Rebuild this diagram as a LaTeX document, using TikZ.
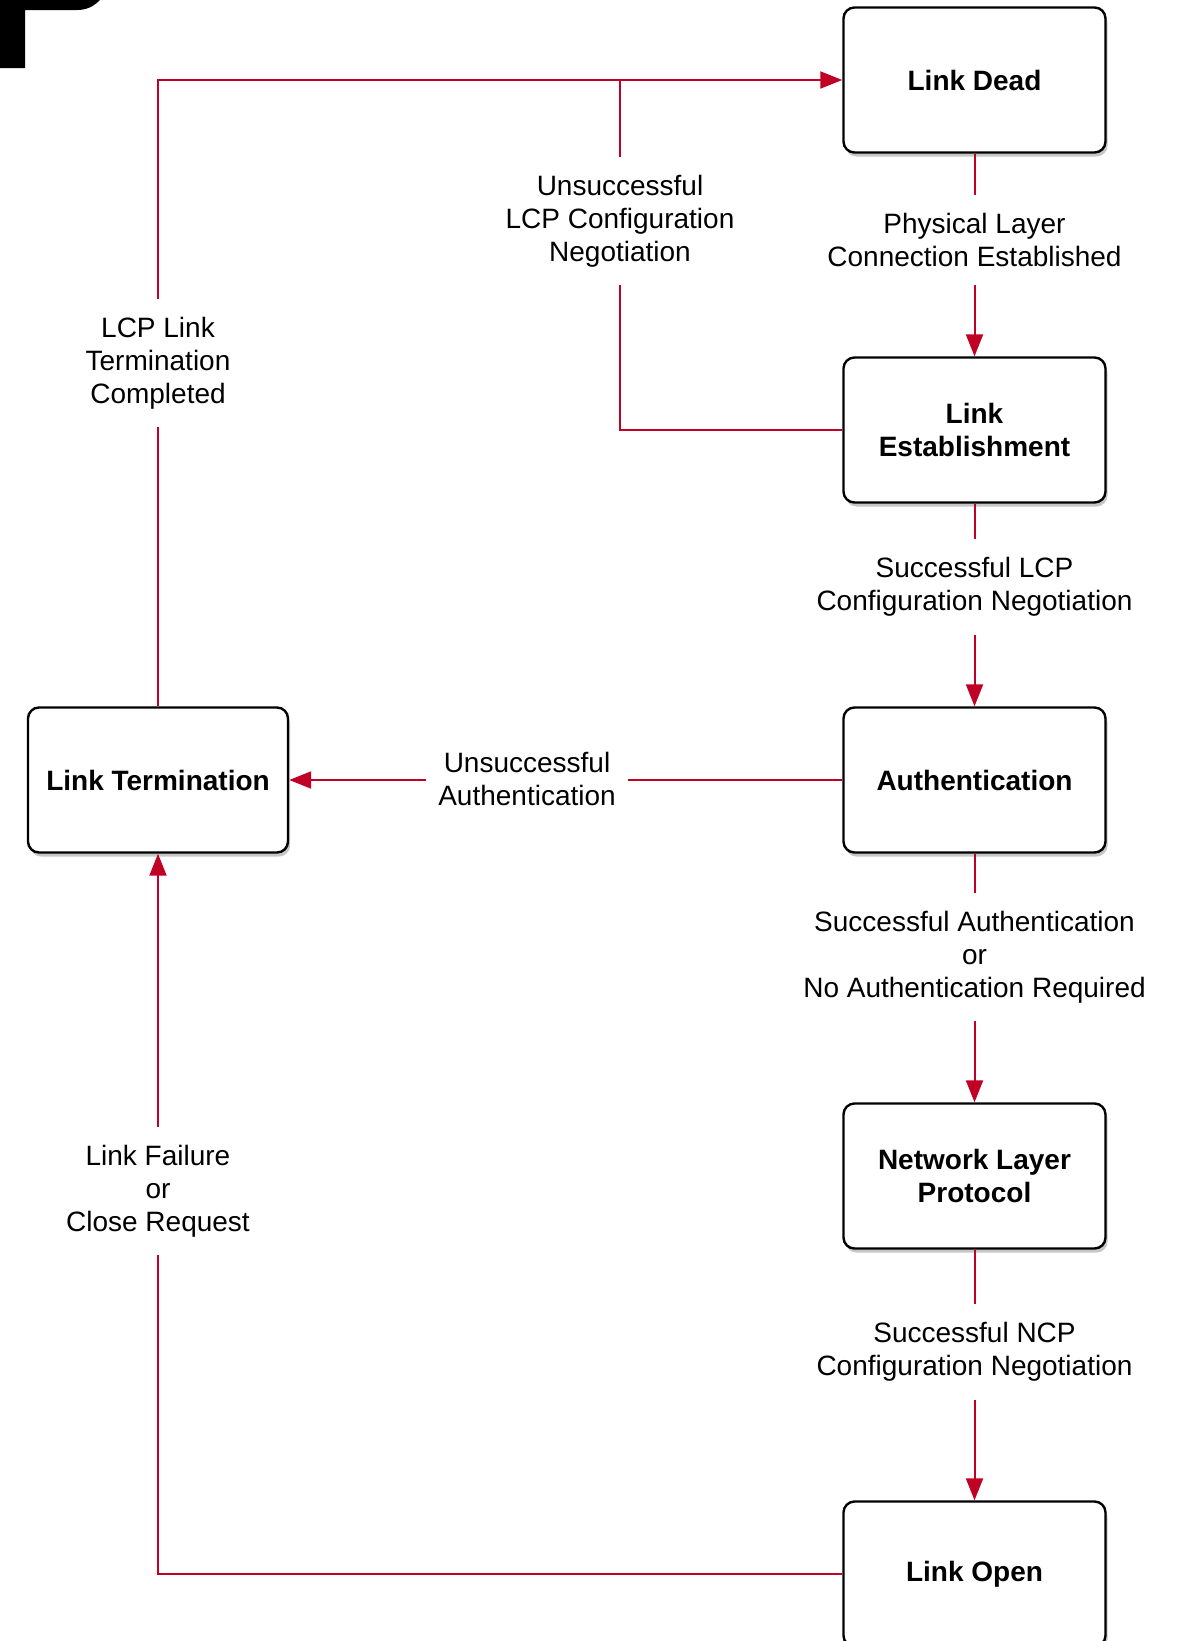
\documentclass[tikz,border=0pt]{standalone}
\usepackage{fontspec}
\setmainfont{Liberation Sans}
\usetikzlibrary{arrows.meta,shadows}
\definecolor{linkred}{RGB}{192,0,36}
\begin{document}
\begin{tikzpicture}[x=1pt,y=-1pt,
  statebox/.style={draw=black, line width=2.4pt, rounded corners=11pt, fill=white,
    minimum width=262pt, minimum height=145pt, align=center, inner sep=0pt,
    font=\fontsize{28}{33}\selectfont\bfseries,
    drop shadow={opacity=0.45, shadow xshift=2pt, shadow yshift=-4pt}},
  lbl/.style={fill=white, align=center, inner xsep=12pt, inner ysep=18pt,
    font=\fontsize{28}{33}\selectfont},
  conn/.style={draw=linkred, line width=2pt},
  arr/.style={conn, -{Triangle[length=22pt,width=17pt]}}]
\useasboundingbox (0,0) rectangle (1176,1641);
% corner of letter at top left
\fill[black] (0,0) -- (100,0) .. controls (93,7) and (86,10) .. (77,10) -- (25,10) -- (25,68) -- (0,68) -- cycle;
% states
\node[statebox] (dead) at (974.5,80) {Link Dead};
\node[statebox] (est) at (974.5,430) {Link\\Establishment};
\node[statebox] (auth) at (974.5,780) {Authentication};
\node[statebox] (net) at (974.5,1176) {Network Layer\\Protocol};
\node[statebox] (open) at (974.5,1574) {Link Open};
\node[statebox, minimum width=260pt] (term) at (158,780) {Link Termination};
\coordinate (j1) at (620,80);
% connectors
\draw[arr] (term.north) |- (dead.west);
\draw[conn] (est.west) -| (j1);
\draw[arr] (dead) -- (est);
\draw[arr] (est) -- (auth);
\draw[arr] (auth) -- (net);
\draw[arr] (net) -- (open);
\draw[arr] (auth.west) -- (term.east);
\draw[arr] (open.west) -| (term.south);
% labels
\node[lbl] (l1) at (620,221) {Unsuccessful\\LCP Configuration\\Negotiation};
\node[lbl] (l2) at (974.5,240) {Physical Layer\\Connection Established};
\node[lbl] (l3) at (158,363) {LCP Link\\Termination\\Completed};
\node[lbl] (l4) at (974.5,587) {Successful LCP\\Configuration Negotiation};
\node[lbl, inner ysep=13pt] (l5) at (527,779) {Unsuccessful\\Authentication};
\node[lbl] (l6) at (974.5,957) {Successful Authentication\\or\\No Authentication Required};
\node[lbl] (l7) at (158,1191) {Link Failure\\or\\Close Request};
\node[lbl] (l8) at (974.5,1352) {Successful NCP\\Configuration Negotiation};
\end{tikzpicture}
\end{document}
